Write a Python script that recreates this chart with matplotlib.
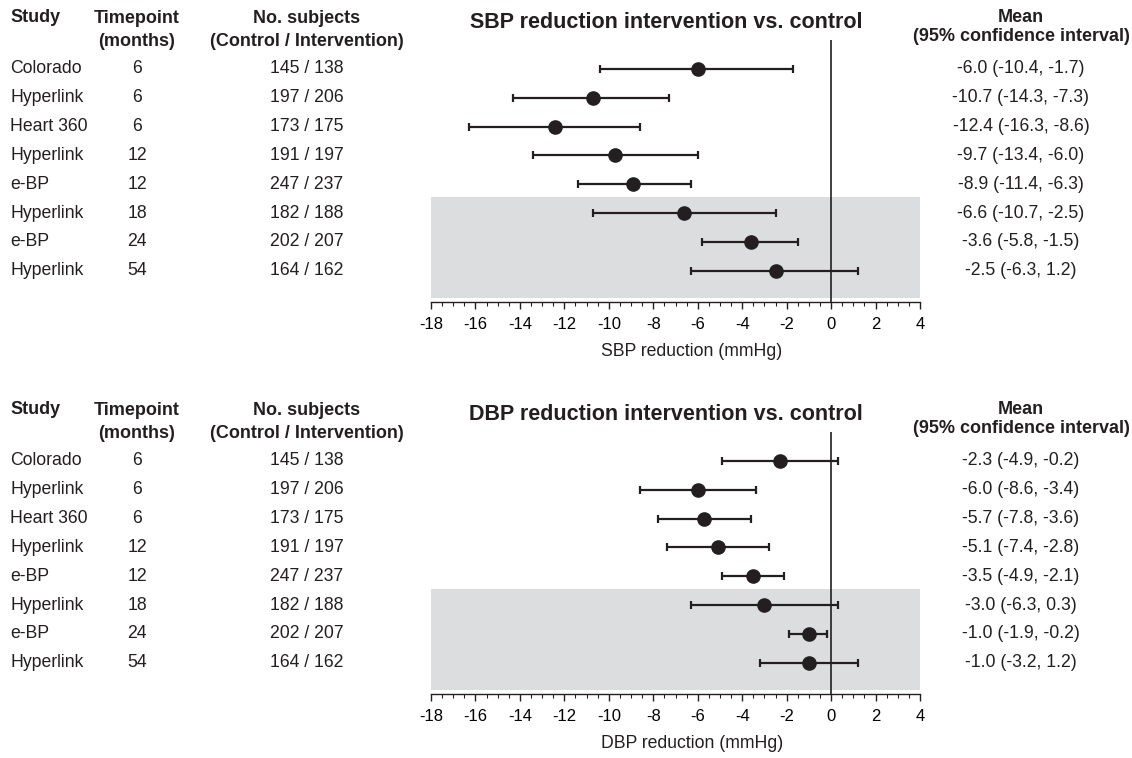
import matplotlib
matplotlib.use("Agg")
import matplotlib.pyplot as plt
from matplotlib.transforms import blended_transform_factory
from matplotlib.ticker import MultipleLocator

plt.rcParams['font.family'] = ['Liberation Sans', 'DejaVu Sans']
plt.rcParams['axes.unicode_minus'] = False

studies = ['Colorado', 'Hyperlink', 'Heart 360', 'Hyperlink', 'e-BP', 'Hyperlink', 'e-BP', 'Hyperlink']
timepoints = ['6', '6', '6', '12', '12', '18', '24', '54']
subjects = ['145 / 138', '197 / 206', '173 / 175', '191 / 197', '247 / 237', '182 / 188', '202 / 207', '164 / 162']

sbp_mean = [-6.0, -10.7, -12.4, -9.7, -8.9, -6.6, -3.6, -2.5]
sbp_lo = [-10.4, -14.3, -16.3, -13.4, -11.4, -10.7, -5.8, -6.3]
sbp_hi = [-1.7, -7.3, -8.6, -6.0, -6.3, -2.5, -1.5, 1.2]
sbp_labels = ['-6.0 (-10.4, -1.7)', '-10.7 (-14.3, -7.3)', '-12.4 (-16.3, -8.6)', '-9.7 (-13.4, -6.0)',
              '-8.9 (-11.4, -6.3)', '-6.6 (-10.7, -2.5)', '-3.6 (-5.8, -1.5)', '-2.5 (-6.3, 1.2)']

dbp_mean = [-2.3, -6.0, -5.7, -5.1, -3.5, -3.0, -1.0, -1.0]
dbp_lo = [-4.9, -8.6, -7.8, -7.4, -4.9, -6.3, -1.9, -3.2]
dbp_hi = [0.3, -3.4, -3.6, -2.8, -2.1, 0.3, -0.2, 1.2]
dbp_labels = ['-2.3 (-4.9, -0.2)', '-6.0 (-8.6, -3.4)', '-5.7 (-7.8, -3.6)', '-5.1 (-7.4, -2.8)',
              '-3.5 (-4.9, -2.1)', '-3.0 (-6.3, 0.3)', '-1.0 (-1.9, -0.2)', '-1.0 (-3.2, 1.2)']

INK = '#231f20'
SHADE = '#dcdddf'
W, H = 1132, 758
FS = 12.7  # row text
HS = 13    # bold headers


def panel(fig, top_px, mean, lo, hi, labels, title, xlabel):
    bottom_px = top_px + 262
    ax = fig.add_axes([431 / W, 1 - bottom_px / H, 489 / W, 262 / H])
    rows = list(range(len(mean)))
    ax.axhspan(4.45, 7.95, color=SHADE, lw=0, zorder=0)
    ax.axvline(0, color=INK, lw=1.2, zorder=1)
    xerr = [[m - l for m, l in zip(mean, lo)], [h - m for m, h in zip(mean, hi)]]
    ax.errorbar(mean, rows, xerr=xerr, fmt='o', color=INK, ms=9.5, elinewidth=1.6,
                capsize=2.6, capthick=1.6, zorder=3)
    ax.set_xlim(-18, 4)
    ax.set_ylim(8.08, -1.0)
    for s in ['top', 'left', 'right']:
        ax.spines[s].set_visible(False)
    ax.spines['bottom'].set_color(INK)
    ax.spines['bottom'].set_linewidth(1.0)
    ax.set_yticks([])
    ax.xaxis.set_major_locator(MultipleLocator(2))
    ax.xaxis.set_minor_locator(MultipleLocator(0.5))
    ax.tick_params(axis='x', which='major', length=5, width=1.0, color=INK, labelsize=12, pad=6)
    ax.tick_params(axis='x', which='minor', length=3, width=0.8, color=INK)
    ax.set_xlabel(xlabel, fontsize=12.7, color=INK)
    ax.xaxis.set_label_coords(0.533, -41 / 262)

    tr = blended_transform_factory(fig.transFigure, ax.transData)
    for i in rows:
        ax.text(10 / W, i, studies[i], transform=tr, ha='left', va='center', fontsize=FS, color=INK)
        ax.text(137 / W, i, timepoints[i], transform=tr, ha='center', va='center', fontsize=FS, color=INK)
        ax.text(307 / W, i, subjects[i], transform=tr, ha='center', va='center', fontsize=FS, color=INK)
        ax.text(1021 / W, i, labels[i], transform=tr, ha='center', va='center', fontsize=FS, color=INK)

    y0 = top_px - 40
    hdr = dict(fontsize=HS, fontweight='bold', color=INK, va='center')
    fig.text(10 / W, 1 - (y0 + 18) / H, 'Study', ha='left', **hdr)
    fig.text(137 / W, 1 - (y0 + 30) / H, 'Timepoint\n(months)', ha='center', linespacing=1.4, **hdr)
    fig.text(307 / W, 1 - (y0 + 30) / H, 'No. subjects\n(Control / Intervention)', ha='center',
             linespacing=1.4, **hdr)
    fig.text(1021 / W, 1 - (y0 + 27) / H, 'Mean\n(95% confidence interval)', ha='center',
             linespacing=1.2, **hdr)
    fig.text(666 / W, 1 - (y0 + 22) / H, title, ha='center', fontsize=15.5, fontweight='bold',
             color=INK, va='center')
    return ax


fig = plt.figure(figsize=(W / 100, H / 100), dpi=100)
panel(fig, 40, sbp_mean, sbp_lo, sbp_hi, sbp_labels, 'SBP reduction intervention vs. control', 'SBP reduction (mmHg)')
panel(fig, 432, dbp_mean, dbp_lo, dbp_hi, dbp_labels, 'DBP reduction intervention vs. control', 'DBP reduction (mmHg)')
fig.savefig('out.png', dpi=100)
